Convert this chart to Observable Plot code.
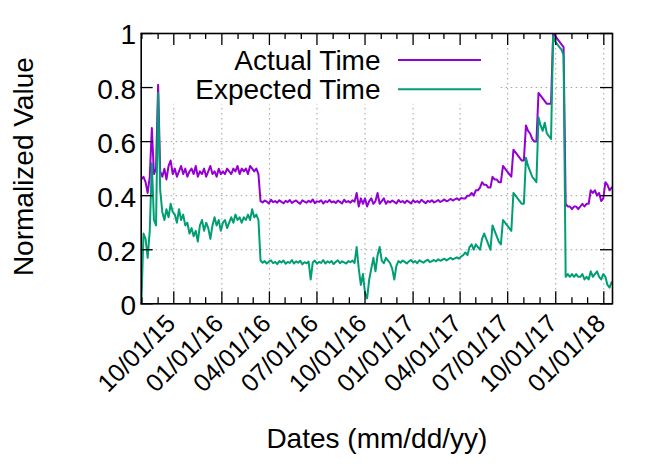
<!DOCTYPE html>
<html>
<head>
<meta charset="utf-8">
<script src="https://cdn.jsdelivr.net/npm/d3@7"></script>
<script src="https://cdn.jsdelivr.net/npm/@observablehq/plot@0.6"></script>
<style>
  html, body { margin: 0; padding: 0; background: #fff; }
  #chart { width: 664px; height: 464px; }
</style>
</head>
<body>
<div id="chart"></div>
<script>
// ---- data ----
const seriesNames = ["Actual Time", "Expected Time"];
const seriesColors = ["#9400d3", "#009e73"];
const sampleStart = "2015-07-31";   // first sample date
const sampleStepDays = 4;           // samples every 4 days

const actualTime = [
  0.46,0.47,0.45,0.41,0.47,0.65,0.48,0.50,0.81,0.49,
  0.47,0.50,0.46,0.51,0.53,0.48,0.50,0.47,0.49,0.51,
  0.48,0.50,0.47,0.49,0.50,0.48,0.51,0.47,0.49,0.48,
  0.50,0.47,0.49,0.51,0.48,0.49,0.47,0.50,0.48,0.49,
  0.48,0.50,0.49,0.48,0.50,0.49,0.51,0.48,0.50,0.49,
  0.50,0.48,0.51,0.50,0.49,0.50,0.48,0.38,0.375,0.382,
  0.378,0.371,0.385,0.376,0.380,0.374,0.383,0.377,0.372,0.381,
  0.376,0.384,0.373,0.379,0.382,0.375,0.370,0.383,0.378,0.374,
  0.381,0.376,0.386,0.372,0.379,0.377,0.383,0.371,0.380,0.376,
  0.384,0.375,0.379,0.373,0.382,0.377,0.371,0.385,0.376,0.380,
  0.374,0.383,0.378,0.41,0.36,0.39,0.37,0.39,0.36,0.38,
  0.39,0.37,0.38,0.41,0.37,0.38,0.39,0.37,0.38,0.375,
  0.382,0.377,0.371,0.384,0.376,0.380,0.373,0.382,0.377,0.371,
  0.383,0.376,0.380,0.374,0.385,0.378,0.372,0.381,0.377,0.383,
  0.375,0.379,0.384,0.377,0.381,0.386,0.379,0.383,0.388,0.382,
  0.386,0.390,0.384,0.391,0.39,0.39,0.40,0.40,0.41,0.40,
  0.42,0.42,0.43,0.45,0.44,0.44,0.43,0.43,0.47,0.46,
  0.46,0.45,0.45,0.51,0.50,0.49,0.48,0.47,0.57,0.56,
  0.55,0.54,0.53,0.53,0.66,0.64,0.63,0.61,0.60,0.60,
  0.78,0.77,0.76,0.75,0.74,0.74,0.74,1.00,0.99,0.98,
  0.97,0.96,0.95,0.37,0.36,0.36,0.35,0.36,0.36,0.35,
  0.36,0.37,0.36,0.37,0.37,0.42,0.41,0.42,0.40,0.41,
  0.38,0.39,0.45,0.44,0.42,0.43
];

const expectedTime = [
  0.00,0.26,0.24,0.17,0.27,0.52,0.31,0.29,0.78,0.42,
  0.34,0.31,0.35,0.32,0.37,0.34,0.33,0.30,0.35,0.31,
  0.33,0.29,0.30,0.26,0.28,0.25,0.27,0.23,0.29,0.31,
  0.27,0.30,0.28,0.24,0.29,0.32,0.29,0.31,0.27,0.30,
  0.31,0.28,0.30,0.32,0.30,0.33,0.31,0.32,0.30,0.32,
  0.31,0.33,0.31,0.35,0.32,0.33,0.31,0.16,0.152,0.158,
  0.149,0.156,0.161,0.150,0.155,0.147,0.158,0.153,0.160,0.148,
  0.155,0.151,0.162,0.149,0.157,0.152,0.159,0.146,0.154,0.150,
  0.156,0.09,0.153,0.160,0.148,0.155,0.151,0.162,0.149,0.157,
  0.152,0.158,0.147,0.155,0.161,0.150,0.157,0.153,0.149,0.158,
  0.154,0.160,0.151,0.21,0.13,0.07,0.11,0.04,0.02,0.09,
  0.13,0.17,0.12,0.18,0.21,0.16,0.15,0.17,0.16,0.15,
  0.13,0.09,0.14,0.158,0.152,0.160,0.155,0.149,0.157,0.162,
  0.153,0.158,0.150,0.161,0.156,0.152,0.159,0.163,0.154,0.158,
  0.162,0.157,0.165,0.159,0.163,0.167,0.160,0.166,0.170,0.164,
  0.168,0.172,0.167,0.175,0.18,0.19,0.18,0.21,0.22,0.20,
  0.22,0.21,0.20,0.24,0.26,0.24,0.22,0.20,0.29,0.27,
  0.25,0.23,0.22,0.31,0.30,0.29,0.28,0.27,0.41,0.40,
  0.39,0.38,0.37,0.37,0.54,0.51,0.49,0.47,0.46,0.45,
  0.69,0.66,0.64,0.67,0.63,0.62,0.61,0.99,0.97,0.96,
  0.95,0.94,0.92,0.10,0.11,0.10,0.11,0.10,0.11,0.10,
  0.10,0.11,0.09,0.10,0.09,0.12,0.10,0.11,0.12,0.10,
  0.09,0.11,0.10,0.07,0.06,0.08
];

const xTickDates = ["2015-10-01","2016-01-01","2016-04-01","2016-07-01","2016-10-01",
                    "2017-01-01","2017-04-01","2017-07-01","2017-10-01","2018-01-01"];
const xTickLabels = ["10/01/15","01/01/16","04/01/16","07/01/16","10/01/16",
                     "01/01/17","04/01/17","07/01/17","10/01/17","01/01/18"];
const yTicks = [0, 0.2, 0.4, 0.6, 0.8, 1];
const yTickLabels = ["0", "0.2", "0.4", "0.6", "0.8", "1"];
const yGrid = [0.2, 0.4, 0.6, 0.8];
const xDomain = ["2015-07-30T15:00Z", "2018-01-17T15:00Z"];
const xLabel = "Dates (mm/dd/yy)";
const yLabel = "Normalized Value";

// ---- build tables ----
const start = new Date(sampleStart);
const toRows = (vals, name) => vals.map((v, i) => ({date: d3.utcDay.offset(start, i * sampleStepDays), value: v, series: name}));
const actualRows = toRows(actualTime, seriesNames[0]);
const expectedRows = toRows(expectedTime, seriesNames[1]);
const majors = xTickDates.map(d => new Date(d));
const domain = xDomain.map(d => new Date(d));
const majorSet = new Set(majors.map(d => +d));
const minors = d3.utcMonth.range(domain[0], domain[1]).filter(d => !majorSet.has(+d));

// ---- layout ----
const W = 664, H = 464;
const mL = 140.7, mR = 52, mT = 33, mB = 160.7;
const plotW = W - mL - mR, plotH = H - mT - mB;
const font = "'Liberation Sans', Arial, Helvetica, sans-serif";
const fs = 28;

const gridStyle = {stroke: "#a0a0a0", strokeWidth: 1, strokeDasharray: "1.5,3.5"};
const tickStyle = {stroke: "black", strokeWidth: 1.3};

const chart = Plot.plot({
  width: W, height: H,
  marginLeft: mL, marginRight: mR, marginTop: mT, marginBottom: mB,
  style: {fontFamily: font, fontSize: fs + "px", color: "black", background: "white"},
  x: {type: "utc", domain, axis: null},
  y: {domain: [0, 1], axis: null},
  marks: [
    Plot.ruleX(majors, {x: d => d, ...gridStyle}),
    Plot.ruleY(yGrid, {y: d => d, ...gridStyle}),
    // opaque key box
    Plot.frame({fill: "white", stroke: null, insetTop: 1, insetLeft: 1, insetRight: 114, insetBottom: 200}),
    Plot.line(actualRows, {x: "date", y: "value", stroke: seriesColors[0], strokeWidth: 2, clip: true}),
    Plot.line(expectedRows, {x: "date", y: "value", stroke: seriesColors[1], strokeWidth: 2, clip: true}),
    // ticks (inward, mirrored)
    Plot.tickX(majors, {x: d => d, insetTop: plotH - 12, ...tickStyle}),
    Plot.tickX(majors, {x: d => d, insetBottom: plotH - 12, ...tickStyle}),
    Plot.tickX(minors, {x: d => d, insetTop: plotH - 6, ...tickStyle}),
    Plot.tickX(minors, {x: d => d, insetBottom: plotH - 6, ...tickStyle}),
    Plot.tickY(yTicks, {y: d => d, insetRight: plotW - 12, ...tickStyle}),
    Plot.tickY(yTicks, {y: d => d, insetLeft: plotW - 12, ...tickStyle}),
    Plot.frame({stroke: "black", strokeWidth: 1.6}),
    // tick labels
    Plot.text(majors, {x: d => d, text: (d, i) => xTickLabels[i], frameAnchor: "bottom",
      rotate: -45, textAnchor: "end", lineAnchor: "bottom", dx: 3, dy: 21, fontSize: 25, fill: "black"}),
    Plot.text(yTicks, {y: d => d, text: (d, i) => yTickLabels[i], frameAnchor: "left",
      textAnchor: "end", dx: -5, dy: 2, fill: "black"}),
    // axis titles
    Plot.text([yLabel], {text: d => d, frameAnchor: "left", textAnchor: "middle", rotate: -90, dx: -117, dy: -2, fill: "black"}),
    Plot.text([xLabel], {text: d => d, frameAnchor: "bottom", textAnchor: "middle", dy: 144, fill: "black"}),
    // key labels
    Plot.text([seriesNames[0]], {text: d => d, frameAnchor: "top-left", textAnchor: "end", lineAnchor: "bottom", dx: 239.3, dy: 36.3, fill: "black"}),
    Plot.text([seriesNames[1]], {text: d => d, frameAnchor: "top-left", textAnchor: "end", lineAnchor: "bottom", dx: 239.3, dy: 65.3, fill: "black"})
  ]
});

// key sample lines
const svg = d3.select(chart);
[60, 89.3].forEach((yy, i) => {
  svg.append("line").attr("x1", 398).attr("x2", 481).attr("y1", yy).attr("y2", yy)
    .attr("stroke", seriesColors[i]).attr("stroke-width", 2);
});

document.getElementById("chart").appendChild(chart);
</script>
</body>
</html>
